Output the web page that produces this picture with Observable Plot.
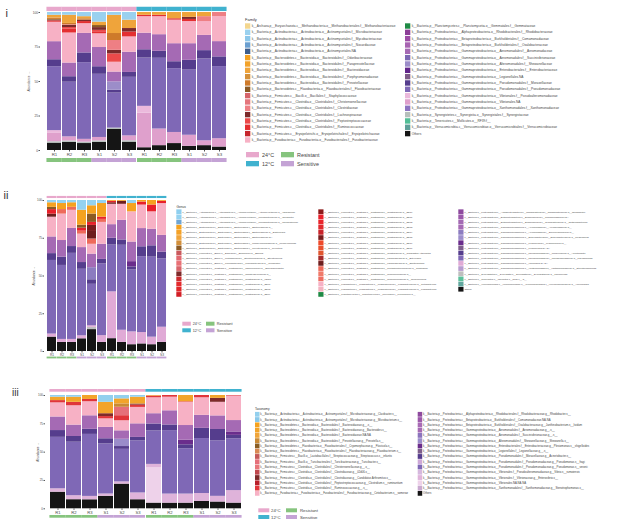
<!DOCTYPE html>
<html><head><meta charset="utf-8">
<script src="https://cdn.jsdelivr.net/npm/d3@7"></script>
<script src="https://cdn.jsdelivr.net/npm/@observablehq/plot@0.6"></script>
<style>
body{margin:0;background:#fff;}
#page{position:relative;width:617px;height:523px;overflow:hidden;font-family:"Liberation Sans",Arial,sans-serif;background:#fff;}
#page > svg{position:absolute;}
</style></head><body><div id="page"></div>
<script>
// ---------- shared ----------
const sampleNames = ["R1","R2","R3","S1","S2","S3"];
const temperatures = ["24°C","12°C"];
const groups = ["Resistant","Sensitive"];
const tempColors = ["#E8A8CC","#40B2CF"];
const groupColors = ["#86C47E","#C4A3D5"];
const sampleKeys = temperatures.flatMap(t => sampleNames.map(s => t + " " + s));

// ---------- panel i : Family ----------
const familyNames = [
"k__Archaea.p__Euryarchaeota.c__Methanobacteria.o__Methanobacteriales.f__Methanobacteriaceae",
"k__Bacteria.p__Actinobacteria.c__Actinobacteria.o__Actinomycetales.f__Microbacteriaceae",
"k__Bacteria.p__Actinobacteria.c__Actinobacteria.o__Actinomycetales.f__Mycobacteriaceae",
"k__Bacteria.p__Actinobacteria.c__Actinobacteria.o__Actinomycetales.f__Nocardiaceae",
"k__Bacteria.p__Actinobacteria.c__Actinobacteria.o__Actinomycetales.NA",
"k__Bacteria.p__Bacteroidetes.c__Bacteroidia.o__Bacteroidales.f__Odoribacteraceae",
"k__Bacteria.p__Bacteroidetes.c__Bacteroidia.o__Bacteroidales.f__Paraprevotellaceae",
"k__Bacteria.p__Bacteroidetes.c__Bacteroidia.o__Bacteroidales.f__Bacteroidaceae",
"k__Bacteria.p__Bacteroidetes.c__Bacteroidia.o__Bacteroidales.f__Porphyromonadaceae",
"k__Bacteria.p__Bacteroidetes.c__Bacteroidia.o__Bacteroidales.f__Prevotellaceae",
"k__Bacteria.p__Bacteroidetes.c__Flavobacteriia.o__Flavobacteriales.f__Flavobacteriaceae",
"k__Bacteria.p__Firmicutes.c__Bacilli.o__Bacillales.f__Staphylococcaceae",
"k__Bacteria.p__Firmicutes.c__Clostridia.o__Clostridiales.f__Christensenellaceae",
"k__Bacteria.p__Firmicutes.c__Clostridia.o__Clostridiales.f__Clostridiaceae",
"k__Bacteria.p__Firmicutes.c__Clostridia.o__Clostridiales.f__Lachnospiraceae",
"k__Bacteria.p__Firmicutes.c__Clostridia.o__Clostridiales.f__Peptostreptococcaceae",
"k__Bacteria.p__Firmicutes.c__Clostridia.o__Clostridiales.f__Ruminococcaceae",
"k__Bacteria.p__Firmicutes.c__Erysipelotrichi.o__Erysipelotrichales.f__Erysipelotrichaceae",
"k__Bacteria.p__Fusobacteria.c__Fusobacteriia.o__Fusobacteriales.f__Fusobacteriaceae",
"k__Bacteria.p__Planctomycetes.c__Planctomycetia.o__Gemmatales.f__Gemmataceae",
"k__Bacteria.p__Proteobacteria.c__Alphaproteobacteria.o__Rhodobacterales.f__Rhodobacteraceae",
"k__Bacteria.p__Proteobacteria.c__Betaproteobacteria.o__Burkholderiales.f__Comamonadaceae",
"k__Bacteria.p__Proteobacteria.c__Betaproteobacteria.o__Burkholderiales.f__Oxalobacteraceae",
"k__Bacteria.p__Proteobacteria.c__Gammaproteobacteria.o__Aeromonadales.f__Aeromonadaceae",
"k__Bacteria.p__Proteobacteria.c__Gammaproteobacteria.o__Aeromonadales.f__Succinivibrionaceae",
"k__Bacteria.p__Proteobacteria.c__Gammaproteobacteria.o__Alteromonadales.f__Shewanellaceae",
"k__Bacteria.p__Proteobacteria.c__Gammaproteobacteria.o__Enterobacteriales.f__Enterobacteriaceae",
"k__Bacteria.p__Proteobacteria.c__Gammaproteobacteria.o__Legionellales.NA",
"k__Bacteria.p__Proteobacteria.c__Gammaproteobacteria.o__Pseudomonadales.f__Moraxellaceae",
"k__Bacteria.p__Proteobacteria.c__Gammaproteobacteria.o__Pseudomonadales.f__Pseudomonadaceae",
"k__Bacteria.p__Proteobacteria.c__Gammaproteobacteria.o__Vibrionales.f__Pseudoalteromonadaceae",
"k__Bacteria.p__Proteobacteria.c__Gammaproteobacteria.o__Vibrionales.NA",
"k__Bacteria.p__Proteobacteria.c__Gammaproteobacteria.o__Xanthomonadales.f__Xanthomonadaceae",
"k__Bacteria.p__Synergistetes.c__Synergistia.o__Synergistales.f__Synergistaceae",
"k__Bacteria.p__Tenericutes.c__Mollicutes.o__RF39.f__",
"k__Bacteria.p__Verrucomicrobia.c__Verrucomicrobiae.o__Verrucomicrobiales.f__Verrucomicrobiaceae",
"Others"];
const familyColors = [
"#F3D68E","#9AD1EF","#8CC7EA","#6A9FD0","#3E5E8C","#F4A11F","#F2A22A","#EFA43B","#D4903A","#CE7A2A",
"#8B5A24","#D6646A","#E4767C","#EE7F84","#7C2B2B","#EB4A4A","#E42F31","#C6252C","#F7B1C5",
"#1F8A45","#8C3E97","#9D4CA6","#A763B1","#A56AB4","#7C68B3","#9C8DC9","#62258A","#7E5B88","#553D8D",
"#7F68B6","#EBB9DC","#DFA0CC","#8D73C1","#B6C0BC","#52BE96","#5E9F98","#151515"];
const familyColumns = [19, 18];
const familyStack = ["Others","f__Synergistaceae","o__Vibrionales.NA","f__Pseudoalteromonadaceae","f__Pseudomonadaceae",
"f__Moraxellaceae","f__Shewanellaceae","f__Aeromonadaceae","f__Fusobacteriaceae","f__Ruminococcaceae",
"f__Peptostreptococcaceae","f__Lachnospiraceae","f__Clostridiaceae","f__Flavobacteriaceae","f__Prevotellaceae",
"f__Bacteroidaceae","f__Microbacteriaceae"];
const familyValues = [
[5.3,1,6,2,46,5,0,13,14,1,0,0.5,0,0.5,1,2,2],
[6,1,3,0,40,4,0,10,22,3,1,1.5,0.5,0,1,6,2],
[5,1,2,0,55,7,0,14,7,1.5,0,1,0,0,1,1.5,3],
[6,1,2.5,0,46,5.5,0,14,10,1.5,1,2,0,1.5,0,2.5,7],
[15,1,0,0,25,2,6,7,7,0,6,2.5,7,0,5,13,2],
[6,1,3.5,0,42,3.5,0,14.5,11,3.5,0,2.5,0,0,0,6,5.5],
[2,0,25,5,35,6,0,12,12,1,0,0,0,0,0,2,0],
[3.5,0,12,0,51,5,0,12,13,1,0,0,0,0,0,2,0],
[5,0,8,0,46,5,0,13,17,1,0,0,0,0,0,4.5,0],
[3,0,8,0,47,7,0,12,16,1.5,0,1.5,0,0,0,3.5,0],
[3.5,0,3.5,0,59,6,0,11,10,0,0,0,3.5,0,0,3,0],
[2.5,0,6,0,52,7,0,11,18,0,0,0,3,0,0,0,0]];

// ---------- panel ii : Genus ----------
const genusNames = [
"k__Bacteria.p__Actinobacteria.c__Actinobacteria.o__Actinomycetales.f__Actinomycetaceae.g__Varibaculum",
"k__Bacteria.p__Actinobacteria.c__Actinobacteria.o__Actinomycetales.f__Microbacteriaceae.g__Clavibacter",
"k__Bacteria.p__Actinobacteria.c__Actinobacteria.o__Actinomycetales.f__Microbacteriaceae.g__Microbacterium",
"k__Bacteria.p__Bacteroidetes.c__Bacteroidia.o__Bacteroidales.f__Bacteroidaceae.g__",
"k__Bacteria.p__Bacteroidetes.c__Bacteroidia.o__Bacteroidales.f__Bacteroidaceae.g__Bacteroides",
"k__Bacteria.p__Bacteroidetes.c__Bacteroidia.o__Bacteroidales.f__Bacteroidaceae.NA",
"k__Bacteria.p__Bacteroidetes.c__Bacteroidia.o__Bacteroidales.f__Porphyromonadaceae.g__Porphyromonas",
"k__Bacteria.p__Bacteroidetes.c__Bacteroidia.o__Bacteroidales.f__Prevotellaceae.g__Prevotella",
"k__Bacteria.p__Firmicutes.c__Bacilli.o__Bacillales.f__Bacillaceae.g__Bacillus",
"k__Bacteria.p__Firmicutes.c__Bacilli.o__Lactobacillales.f__Streptococcaceae.g__Streptococcus",
"k__Bacteria.p__Firmicutes.c__Bacilli.o__Turicibacterales.f__Turicibacteraceae.g__Turicibacter",
"k__Bacteria.p__Firmicutes.c__Clostridia.o__Clostridiales.f__Tissierellaceae.g__Sporanaerobacter",
"k__Bacteria.p__Firmicutes.c__Clostridia.o__Clostridiales.f__Christensenellaceae.g__",
"k__Bacteria.p__Firmicutes.c__Clostridia.o__Clostridiales.f__Clostridiaceae.g__02d06",
"k__Bacteria.p__Firmicutes.c__Clostridia.o__Clostridiales.f__Clostridiaceae.g__SD07",
"k__Bacteria.p__Firmicutes.c__Clostridia.o__Clostridiales.f__Clostridiaceae.g__SD08",
"k__Bacteria.p__Firmicutes.c__Clostridia.o__Clostridiales.f__Clostridiaceae.g__SD09",
"k__Bacteria.p__Firmicutes.c__Clostridia.o__Clostridiales.f__Clostridiaceae.g__SD10",
"k__Bacteria.p__Firmicutes.c__Clostridia.o__Clostridiales.f__Clostridiaceae.g__SD11",
"k__Bacteria.p__Firmicutes.c__Clostridia.o__Clostridiales.f__Clostridiaceae.g__SD12",
"k__Bacteria.p__Firmicutes.c__Clostridia.o__Clostridiales.f__Clostridiaceae.g__SD13",
"k__Bacteria.p__Firmicutes.c__Clostridia.o__Clostridiales.f__Clostridiaceae.g__SD14",
"k__Bacteria.p__Firmicutes.c__Clostridia.o__Clostridiales.f__Clostridiaceae.g__SD15",
"k__Bacteria.p__Firmicutes.c__Clostridia.o__Clostridiales.f__Clostridiaceae.g__SD16",
"k__Bacteria.p__Firmicutes.c__Clostridia.o__Clostridiales.f__Clostridiaceae.g__SD17",
"k__Bacteria.p__Firmicutes.c__Clostridia.o__Clostridiales.f__Clostridiaceae.g__Candidatus Arthromitus",
"k__Bacteria.p__Firmicutes.c__Clostridia.o__Clostridiales.f__Lachnospiraceae.g__Butyrivibrio",
"k__Bacteria.p__Firmicutes.c__Clostridia.o__Clostridiales.f__Lachnospiraceae.g__Shuttleworthia",
"k__Bacteria.p__Firmicutes.c__Clostridia.o__Clostridiales.f__Peptostreptococcaceae.g__Clostridium",
"k__Bacteria.p__Firmicutes.c__Clostridia.o__Clostridiales.f__Ruminococcaceae.g__",
"k__Bacteria.p__Firmicutes.c__Clostridia.o__Clostridiales.f__Ruminococcaceae.g__Ruminococcus",
"k__Bacteria.p__Fusobacteria.c__Fusobacteriia.o__Fusobacteriales.f__Fusobacteriaceae.g__Cetobacterium",
"k__Bacteria.p__Fusobacteria.c__Fusobacteriia.o__Fusobacteriales.f__Fusobacteriaceae.g__Fusobacterium",
"k__Bacteria.p__Planctomycetes.c__Planctomycetia.o__Pirellulales.f__Pirellulaceae.g__",
"k__Bacteria.p__Proteobacteria.c__Alphaproteobacteria.o__Rhodobacterales.f__Rhodobacteraceae.g__Rhodobacter",
"k__Bacteria.p__Proteobacteria.c__Betaproteobacteria.o__Burkholderiales.f__Comamonadaceae.NA",
"k__Bacteria.p__Proteobacteria.c__Betaproteobacteria.o__Burkholderiales.f__Oxalobacteraceae.g__Janthinobacterium",
"k__Bacteria.p__Proteobacteria.c__Gammaproteobacteria.o__Aeromonadales.f__Aeromonadaceae.g__",
"k__Bacteria.p__Proteobacteria.c__Gammaproteobacteria.o__Aeromonadales.f__Succinivibrionaceae.g__",
"k__Bacteria.p__Proteobacteria.c__Gammaproteobacteria.o__Enterobacteriales.f__Enterobacteriaceae.g__Plesiomonas",
"k__Bacteria.p__Proteobacteria.c__Gammaproteobacteria.o__Legionellales.f__Legionellaceae.g__",
"k__Bacteria.p__Proteobacteria.c__Gammaproteobacteria.o__Legionellales.NA.NA",
"k__Bacteria.p__Proteobacteria.c__Gammaproteobacteria.o__Pseudomonadales.f__Moraxellaceae.g__Acinetobacter",
"k__Bacteria.p__Proteobacteria.c__Gammaproteobacteria.o__Pseudomonadales.f__Pseudomonadaceae.g__Pseudomonas",
"k__Bacteria.p__Proteobacteria.c__Gammaproteobacteria.o__Vibrionales.NA.NA",
"k__Bacteria.p__Proteobacteria.c__Gammaproteobacteria.o__Xanthomonadales.f__Xanthomonadaceae.g__Stenotrophomonas",
"k__Bacteria.p__Synergistetes.c__Synergistia.o__Synergistales.f__Synergistaceae.g__Thermovirga",
"k__Bacteria.p__Tenericutes.c__Mollicutes.o__RF39.f__.g__",
"k__Bacteria.p__Verrucomicrobia.c__Verrucomicrobiae.o__Verrucomicrobiales.f__Verrucomicrobiaceae.g__Akkermansia",
"Others"];
const genusColors = [
"#8ECFEF","#94D2F0","#6EA5D4","#F5A21F","#F4A126","#F0A43A","#D28F3A","#8C5A24","#C9585C","#E06870",
"#E87075","#D8646A","#7F2A2A","#CC2A2E","#E42A2E","#E0262A","#D21E26",
"#8B1A1A","#E8202A","#E8262C","#E02A2E","#C8242A","#7A1C1C","#EE4A2A","#E8502E","#E0552E","#A62B2B",
"#6E1E1E","#EE6A5A","#F07A6A","#EE6E62","#F7B1C5","#F3B3C0","#1E8A45",
"#8E4A9E","#9A58AA","#A36AB3","#A56AB4","#8C7CC0","#9C8DCB","#6A2D8C","#7E5E8C","#553D8D","#7F68B6",
"#E0AAD6","#B79CCF","#BEBEBE","#5CC09A","#62A79E","#151515"];
const genusColumns = [17, 17, 16];
const genusStack = ["Others","g__Thermovirga","o__Vibrionales.NA.NA","g__Pseudomonas","g__Acinetobacter",
"f__Legionellaceae.g__","f__Succinivibrionaceae.g__","f__Aeromonadaceae.g__","g__Cetobacterium","g__Clostridium",
"g__Shuttleworthia","g__SD15","g__SD11","g__Prevotella","f__Bacteroidaceae.g__","g__Clavibacter"];
const genusValues = [
[9.5,0,2,48.5,4.5,0,0,11,13,0,2,0,3,1.5,3,1.5],
[6,0,2,49,5.5,0,0,11,17.5,3,0,0,0,0,4,2],
[6,0,2,57,4.5,0,0,12,12,2,0,0,0,0,3,1.5],
[8.5,0,2,44.5,4.5,0,0,10,9,2,0,0,2,2,10,6.5],
[14.5,1.5,1,27.5,3,0,8,9,6.5,3.5,5,4,2,5.5,5.5,3.5],
[6,0,4.5,47.5,3,0,0,10,14.5,2,0,0,1.5,0,9,2],
[8.5,0,31,31,4.5,0,0,9,13.5,0,1,0,1,0,0.5,0],
[6,0,8,56,3.5,0,0,13,10.5,0,2,0,0,0,0.5,0],
[4.5,0,8.5,41,2,3.5,0,13,20,0,0,0,0,0,5.5,2],
[5,0,7.5,50,6.5,0,0,12,15.5,0,0,0,2,0,1,0],
[4.5,0,5,53,7.5,0,0,11,11.5,0,0,0,4.5,0,3,0],
[6,0,10,45,4.5,0,0,11,21,0,0,0,1.5,0,0.5,0]];

// ---------- panel iii : Taxonomy ----------
const taxonomyNames = [
"k__Bacteria.p__Actinobacteria.c__Actinobacteria.o__Actinomycetales.f__Microbacteriaceae.g__Clavibacter.s__",
"k__Bacteria.p__Actinobacteria.c__Actinobacteria.o__Actinomycetales.f__Microbacteriaceae.g__Microbacterium.s__",
"k__Bacteria.p__Bacteroidetes.c__Bacteroidia.o__Bacteroidales.f__Bacteroidaceae.g__.s__",
"k__Bacteria.p__Bacteroidetes.c__Bacteroidia.o__Bacteroidales.f__Bacteroidaceae.g__Bacteroides.s__",
"k__Bacteria.p__Bacteroidetes.c__Bacteroidia.o__Bacteroidales.f__Bacteroidaceae.NA.NA",
"k__Bacteria.p__Bacteroidetes.c__Bacteroidia.o__Bacteroidales.f__Prevotellaceae.g__Prevotella.s__",
"k__Bacteria.p__Bacteroidetes.c__Flavobacteriia.o__Flavobacteriales.f__Cryomorphaceae.g__Fluviicola.s__",
"k__Bacteria.p__Bacteroidetes.c__Flavobacteriia.o__Flavobacteriales.f__Flavobacteriaceae.g__Flavobacterium.s__",
"k__Bacteria.p__Firmicutes.c__Bacilli.o__Lactobacillales.f__Streptococcaceae.g__Streptococcus.s__infantis",
"k__Bacteria.p__Firmicutes.c__Bacilli.o__Turicibacterales.f__Turicibacteraceae.g__Turicibacter.s__",
"k__Bacteria.p__Firmicutes.c__Clostridia.o__Clostridiales.f__Christensenellaceae.g__.s__",
"k__Bacteria.p__Firmicutes.c__Clostridia.o__Clostridiales.f__Clostridiaceae.g__02d06.s__",
"k__Bacteria.p__Firmicutes.c__Clostridia.o__Clostridiales.f__Clostridiaceae.g__Candidatus Arthromitus.s__",
"k__Bacteria.p__Firmicutes.c__Clostridia.o__Clostridiales.f__Peptostreptococcaceae.g__Clostridium.s__ruminantium",
"k__Bacteria.p__Firmicutes.c__Clostridia.o__Clostridiales.f__Ruminococcaceae.g__.s__",
"k__Bacteria.p__Fusobacteria.c__Fusobacteriia.o__Fusobacteriales.f__Fusobacteriaceae.g__Cetobacterium.s__somerae",
"k__Bacteria.p__Proteobacteria.c__Alphaproteobacteria.o__Rhodobacterales.f__Rhodobacteraceae.g__Rhodobacter.s__",
"k__Bacteria.p__Proteobacteria.c__Betaproteobacteria.o__Burkholderiales.f__Comamonadaceae.NA.NA",
"k__Bacteria.p__Proteobacteria.c__Betaproteobacteria.o__Burkholderiales.f__Oxalobacteraceae.g__Janthinobacterium.s__lividum",
"k__Bacteria.p__Proteobacteria.c__Gammaproteobacteria.o__Aeromonadales.f__Aeromonadaceae.g__.s__",
"k__Bacteria.p__Proteobacteria.c__Gammaproteobacteria.o__Aeromonadales.f__Succinivibrionaceae.g__.s__",
"k__Bacteria.p__Proteobacteria.c__Gammaproteobacteria.o__Alteromonadales.f__Shewanellaceae.g__Shewanella.s__",
"k__Bacteria.p__Proteobacteria.c__Gammaproteobacteria.o__Enterobacteriales.f__Enterobacteriaceae.g__Plesiomonas.s__shigelloides",
"k__Bacteria.p__Proteobacteria.c__Gammaproteobacteria.o__Legionellales.f__Legionellaceae.g__.s__",
"k__Bacteria.p__Proteobacteria.c__Gammaproteobacteria.o__Pseudomonadales.f__Moraxellaceae.g__Acinetobacter.s__",
"k__Bacteria.p__Proteobacteria.c__Gammaproteobacteria.o__Pseudomonadales.f__Pseudomonadaceae.g__Pseudomonas.s__fragi",
"k__Bacteria.p__Proteobacteria.c__Gammaproteobacteria.o__Pseudomonadales.f__Pseudomonadaceae.g__Pseudomonas.s__veronii",
"k__Bacteria.p__Proteobacteria.c__Gammaproteobacteria.o__Vibrionales.f__Pseudoalteromonadaceae.g__Vibrio.s__rumoiensis",
"k__Bacteria.p__Proteobacteria.c__Gammaproteobacteria.o__Vibrionales.f__Vibrionaceae.g__Enterovibrio.s__",
"k__Bacteria.p__Proteobacteria.c__Gammaproteobacteria.o__Vibrionales.NA.NA.NA",
"k__Bacteria.p__Proteobacteria.c__Gammaproteobacteria.o__Xanthomonadales.f__Xanthomonadaceae.g__Stenotrophomonas.s__",
"Others"];
const taxonomyColors = [
"#93D0EE","#88C8EA","#F5A21F","#F2A42A","#F0A53A","#C98A36","#8B5E24","#D98A55","#C45A5A","#E5707A",
"#E8767A","#C0484E","#7E2A2A","#B8202A","#E0353A","#F7B1C5",
"#8E4A9E","#9C58AA","#A86AB5","#A56AB4","#8B73BD","#9A8CCA","#6A2D8C","#7E5E8C","#553D8D","#CDA8D8",
"#7F68B6","#D6B8DE","#DFB3DA","#EED2EA","#C9A9D0","#151515"];
const taxonomyColumns = [16, 16];
const taxonomyStack = ["Others","o__Vibrionales.NA.NA.NA","g__Enterovibrio.s__","s__veronii","g__Acinetobacter.s__",
"g__Plesiomonas.s__shigelloides","g__Shewanella.s__","f__Aeromonadaceae.g__.s__","s__somerae","f__Ruminococcaceae.g__.s__",
"g__Candidatus Arthromitus.s__","g__Turicibacter.s__","g__Prevotella.s__","g__Bacteroides.s__","g__Clavibacter.s__"];
const taxonomyValues = [
[14.7,0,3,45.5,6,0,0,12,12.5,2,0,0,0,3,1.5],
[8,0,3.5,47,5,0,0,10,17,3,0,0,0,4.5,1.5],
[8,0,3,55,4.5,0,0,12,12.5,2,0,0,0,3.5,0],
[11,0,2,44,4.5,0,0,10,7.5,2,2.5,0,0,10,6],
[22,0,2,29,2.5,0,6.5,7.5,9,4.5,0,7.5,3,4.5,3],
[8,0,6,46,3,0,0,12,14.5,2,1,0,0,6,1.5],
[5,31,3,29.5,6,0,0,9,14,1.5,0,0,0,0.5,0],
[5,0,8,56,5,0,0,12.5,12,1.5,0,0,0,0,0],
[5,0,8,40,3.5,4,0,13,20.5,0.5,0,0,0,5.5,0],
[6.5,0,7,48.5,9,0,0,11.5,15.5,2,0,0,0,0,0],
[6,0,5,49,10,0,0,12,12,0,3.5,0,0,2.5,0],
[5,0,11,45.5,3,3,0,10,21.5,0.5,0,0,0,0,0]];

// ---------- drawing ----------
const page = document.getElementById("page");
const byEnd = (names, s) => names.find(n => n.endsWith(s));

function drawPanel(c) {
  const taxa = c.stack.map(s => byEnd(c.names, s));
  const data = [];
  sampleKeys.forEach((k, j) => taxa.forEach((t, i) => {
    const v = c.values[j][i];
    if (v > 0) data.push({sample: k, taxon: t, value: v});
  }));
  const [mT, mR, mB, mL] = c.margins;
  const pad = 0.07;
  const h = ((c.width - mL - mR) / (12 + pad)) * pad / 2;
  const t24 = sampleKeys.slice(0, 6), t12 = sampleKeys.slice(6);
  const rK = sampleKeys.filter(k => k.split(" ")[1][0] === "R");
  const sK = sampleKeys.filter(k => k.split(" ")[1][0] === "S");
  const leftEdge = sampleKeys[6], rightEdge = sampleKeys[5];
  const strip = (keys, ys, fill, iL, iR) => Plot.barY(keys, {x: d => d, y1: ys[0], y2: ys[1], fill, insetLeft: iL, insetRight: iR});
  const chart = Plot.plot({
    width: c.width, height: c.height,
    marginTop: mT, marginRight: mR, marginBottom: mB, marginLeft: mL,
    style: {fontFamily: "Liberation Sans, Arial, sans-serif", color: "#4d4d4d", background: "transparent", overflow: "visible"},
    x: {type: "band", domain: sampleKeys, padding: pad},
    y: {domain: [0, 1]},
    color: {domain: c.names, range: c.colors},
    marks: [
      Plot.barY(data, {x: "sample", y: "value", fill: "taxon", offset: "normalize"}),
      strip(t24, c.topStrip, tempColors[0], -h, -h),
      strip(t12, c.topStrip, tempColors[1], -h, -h),
      strip(rK.filter(k => k !== leftEdge), c.bottomStrip, groupColors[0], -h, -h),
      strip([leftEdge], c.bottomStrip, groupColors[0], 0, -h),
      strip(sK.filter(k => k !== rightEdge), c.bottomStrip, groupColors[1], -h, -h),
      strip([rightEdge], c.bottomStrip, groupColors[1], -h, 0),
      Plot.axisY({ticks: [0, 0.25, 0.5, 0.75, 1], tickFormat: d => Math.round(d * 100), tickSize: 1.5, tickPadding: 1,
        fontSize: c.tickFont, label: "Abundance", labelAnchor: "center", labelOffset: c.labelOffset, stroke: "#555"}),
      Plot.axisX({tickFormat: d => d.split(" ")[1], tickSize: 1.5, tickPadding: 0.8, fontSize: c.xFont, label: null, stroke: "#555"})
    ]
  });
  chart.style.position = "absolute";
  chart.style.left = c.left + "px";
  chart.style.top = c.top + "px";
  chart.querySelectorAll("text").forEach(t => { if (t.textContent === "Abundance") t.setAttribute("font-size", c.labelFont); });
  page.appendChild(chart);
}

drawPanel({names: familyNames, colors: familyColors, stack: familyStack, values: familyValues,
  left: 0, top: 0, width: 240, height: 165, margins: [12, 7, 15, 40],
  topStrip: [1.007, 1.038], bottomStrip: [-0.058, -0.087], tickFont: 3.2, xFont: 4.4, labelFont: 4.2, labelOffset: 13});
drawPanel({names: genusNames, colors: genusColors, stack: genusStack, values: genusValues,
  left: 0, top: 185, width: 175, height: 180, margins: [15, 5, 14, 44],
  topStrip: [1.013, 1.027], bottomStrip: [-0.037, -0.049], tickFont: 3, xFont: 3.3, labelFont: 4, labelOffset: 12});
drawPanel({names: taxonomyNames, colors: taxonomyColors, stack: taxonomyStack, values: taxonomyValues,
  left: 0, top: 375, width: 250, height: 148, margins: [20, 5, 14.7, 45],
  topStrip: [1.029, 1.053], bottomStrip: [-0.059, -0.083], tickFont: 3, xFont: 4.2, labelFont: 3.2, labelOffset: 9});

// ---------- legends ----------
const svg = d3.select(page).append("svg").attr("width", 617).attr("height", 523)
  .style("left", "0px").style("top", "0px").attr("font-family", "Liberation Sans, Arial, sans-serif");

function drawLegend(o) {
  svg.append("text").attr("x", o.titleX).attr("y", o.titleY).attr("font-size", o.titleSize).attr("fill", "#333").text(o.title);
  let idx = 0;
  o.columns.forEach((n, c) => {
    for (let r = 0; r < n; r++, idx++) {
      const y = o.y0 + r * o.dy;
      svg.append("rect").attr("x", o.colX[c]).attr("y", y - o.sh / 2).attr("width", o.sw).attr("height", o.sh).attr("fill", o.colors[idx]);
      svg.append("text").attr("x", o.colX[c] + o.textDx).attr("y", y).attr("dy", "0.35em")
        .attr("font-size", o.size).attr("fill", "#444").text(o.names[idx]);
    }
  });
}
function drawKey(o) {
  const items = [[tempColors[0], temperatures[0], groupColors[0], groups[0]], [tempColors[1], temperatures[1], groupColors[1], groups[1]]];
  items.forEach((row, r) => {
    const y = o.rowY[r];
    [0, 1].forEach(c => {
      svg.append("rect").attr("x", o.swX[c]).attr("y", y).attr("width", o.sw).attr("height", o.sh).attr("fill", row[c * 2]);
      svg.append("text").attr("x", o.txX[c]).attr("y", y + o.sh / 2).attr("dy", "0.36em").attr("font-size", o.size)
        .attr("fill", "#444").text(row[c * 2 + 1]);
    });
  });
}
function panelLabel(t, x, y, s) {
  svg.append("text").attr("x", x).attr("y", y).attr("font-size", s).attr("fill", "#333").text(t);
}

drawLegend({title: "Family", titleX: 245, titleY: 21, titleSize: 4, names: familyNames, colors: familyColors,
  columns: familyColumns, colX: [245, 405], textDx: 6.7, y0: 26, dy: 6.33, sw: 5.3, sh: 5.4, size: 3.2});
drawLegend({title: "Genus", titleX: 176.5, titleY: 207.5, titleSize: 3.2, names: genusNames, colors: genusColors,
  columns: genusColumns, colX: [176.3, 318.3, 458.3], textDx: 6.2, y0: 211.7, dy: 5.17, sw: 5.2, sh: 4.7, size: 2.35});
drawLegend({title: "Taxonomy", titleX: 255, titleY: 410, titleSize: 3.2, names: taxonomyNames, colors: taxonomyColors,
  columns: taxonomyColumns, colX: [255, 417.7], textDx: 5.3, y0: 414.3, dy: 5.27, sw: 4.5, sh: 4.8, size: 2.75});

drawKey({swX: [246, 281], txX: [262, 297], rowY: [152, 161], sw: 13, sh: 5.3, size: 5.4});
drawKey({swX: [182.3, 206], txX: [192.7, 216.7], rowY: [321.7, 328.3], sw: 8.5, sh: 4, size: 3.8});
drawKey({swX: [258.3, 286], txX: [271, 300], rowY: [508.3, 515], sw: 11, sh: 4, size: 4.3});

panelLabel("i", 5.5, 17, 11);
panelLabel("ii", 3.5, 199, 11);
panelLabel("iii", 12, 396, 10);
</script>
</body></html>
